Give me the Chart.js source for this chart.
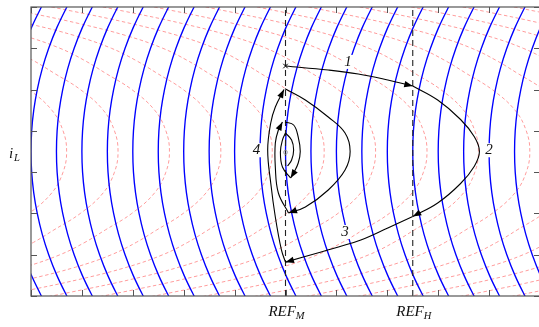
<!DOCTYPE html>
<html>
<head>
<meta charset="utf-8">
<script src="https://cdn.jsdelivr.net/npm/chart.js@4/dist/chart.umd.min.js"></script>
<style>
  html, body { margin: 0; padding: 0; background: #fff; overflow: hidden; width: 539px; height: 327px; }
  #wrap { width: 545px; height: 327px; }
</style>
</head>
<body>
<div id="wrap"><canvas id="c" width="545" height="327"></canvas></div>
<script>
// Axis ticks (normalised voltage on x, normalised current on y)
const xTicks = [0, 1, 2, 3, 4, 5, 6, 7, 8, 9, 10];
const yTicks = [-3.5, -2.5, -1.5, -0.5, 0.5, 1.5, 2.5, 3.5];

// Reference voltages
const refLines = [
  { x: 5.0, name: 'REF', sub: 'M' },
  { x: 7.5, name: 'REF', sub: 'H' }
];

// Blue family: vertex positions and the half-profile [iL, dv] shared by every arc
const blueVertices = [-0.5, 0, 0.5, 1, 1.5, 2, 2.5, 3, 3.5, 4, 4.5, 5, 5.5, 6, 6.5, 7, 7.5, 8, 8.5, 9, 9.5, 10];
const blueProfile = [[0, 0], [0.5, 0.013], [1, 0.054], [1.5, 0.123], [2, 0.22], [2.5, 0.348], [3, 0.508], [3.5, 0.704], [3.75, 0.816]];

// Pink dashed family: vertex positions and half-profile [iL, dv]
const pinkVertices = [0.7, 1.71, 2.72, 3.73, 4.74, 5.76, 6.77, 7.78, 8.79, 9.8, 10.81, 11.82, 12.83, 13.84, 14.85, 15.86];
const pinkProfile = [[0, 0], [0.5, -0.07], [1.0, -0.29], [1.5, -0.74], [1.9, -1.26], [2.2, -1.66], [2.5, -2.15], [2.8, -2.85], [3.1, -3.8], [3.4, -4.95], [3.7, -6.2], [4.0, -7.5]];

// Trajectory segments [v, iL]
const path1 = [[5.0, 2.07], [5.84, 1.973], [6.43, 1.877], [7.01, 1.731], [7.5, 1.586]];
const path2 = [[7.5, 1.586], [7.99, 1.247], [8.44, 0.775], [8.71, 0.355], [8.81, 0], [8.71, -0.355], [8.44, -0.775], [7.99, -1.247], [7.5, -1.575]];
const path3 = [[7.5, -1.575], [7.01, -1.852], [6.48, -2.143], [6.04, -2.312], [5.7, -2.433], [5.0, -2.68]];
const path4a = [[5.0, -2.68], [4.92, -2.385], [4.8, -1.586], [4.71, -0.763], [4.65, 0.036], [4.71, 0.69], [4.8, 1.077], [4.97, 1.5]];
const path4b = [[4.99, 1.52], [5.39, 1.247], [5.84, 0.835], [6.17, 0.448], [6.27, 0.0], [6.17, -0.448], [5.84, -0.932], [5.39, -1.344], [5.06, -1.489]];
const path4c = [[5.06, -1.489], [4.86, -1.005], [4.8, -0.375], [4.8, 0.206], [4.86, 0.521], [4.94, 0.714]];
const path4d = [[4.99, 0.714], [5.16, 0.642], [5.25, 0.351], [5.29, 0.0], [5.25, -0.278], [5.16, -0.521], [5.1, -0.642]];
const path4e = [[5.1, -0.642], [4.94, -0.375], [4.9, -0.012], [4.94, 0.278], [5.0, 0.448]];
const path4f = [[5.0, 0.448], [5.12, 0.278], [5.16, 0.036], [5.12, -0.206], [5.04, -0.351]];

const startPoint = [5.0, 2.07];
const restPoint = [5.0, -0.02];

// Segment numbers and where they sit [label, v, iL]
const segmentLabels = [['1', 6.23, 2.17], ['2', 9.0, 0.03], ['3', 6.17, -1.95], ['4', 4.43, 0.03]];

const toXY = arr => arr.map(([x, y]) => ({ x, y }));

function mirroredArc(v, profile) {
  const upper = profile.map(([dy, dx]) => ({ x: v + dx, y: dy }));
  const lower = profile.slice(1).map(([dy, dx]) => ({ x: v + dx, y: -dy })).reverse();
  return lower.concat(upper);
}

const datasets = [];

// trajectory (drawn on top)
[path1, path2, path3, path4a, path4b, path4c, path4d].forEach(p => {
  datasets.push({ data: toXY(p), showLine: true, borderColor: '#000', borderWidth: 1.1,
    pointRadius: 0, tension: 0.4, arrow: true, order: 0 });
});
[path4e, path4f].forEach(p => {
  datasets.push({ data: toXY(p), showLine: true, borderColor: '#000', borderWidth: 1.1,
    pointRadius: 0, tension: 0.4, order: 0 });
});
datasets.push({ data: toXY([startPoint]), showLine: false, pointStyle: 'crossRot', pointRadius: 3.2,
  borderColor: '#000', borderWidth: 1, order: 0 });
datasets.push({ data: toXY([restPoint]), showLine: false, pointStyle: 'circle', pointRadius: 2,
  borderColor: '#999', backgroundColor: 'rgba(0,0,0,0)', borderWidth: 0.8, order: 0 });

// reference lines
refLines.forEach(r => {
  datasets.push({ data: [{ x: r.x, y: -3.5 }, { x: r.x, y: 3.5 }], showLine: true, borderColor: '#222',
    borderWidth: 1.1, borderDash: [6, 4], pointRadius: 0, order: 1 });
});

// blue arcs
blueVertices.forEach(v => {
  datasets.push({ data: mirroredArc(v, blueProfile), showLine: true, borderColor: '#0000ff',
    borderWidth: 1.35, pointRadius: 0, tension: 0.4, order: 2 });
});

// pink dashed arcs
pinkVertices.forEach(v => {
  datasets.push({ data: mirroredArc(v, pinkProfile), showLine: true, borderColor: '#ff9c9c',
    borderWidth: 1, borderDash: [3.5, 2.5], pointRadius: 0, tension: 0.4, order: 3 });
});

const overlay = {
  id: 'overlay',
  afterDatasetsDraw(chart) {
    const { ctx, chartArea: a, scales: { x, y } } = chart;
    ctx.save();

    // arrowheads at the end of each directed segment
    chart.data.datasets.forEach((ds, i) => {
      if (!ds.arrow) return;
      const pts = chart.getDatasetMeta(i).data;
      const p1 = pts[pts.length - 1];
      let fx = p1.cp1x, fy = p1.cp1y;
      if (fx === undefined || Math.hypot(p1.x - fx, p1.y - fy) < 0.5) {
        fx = pts[pts.length - 2].x; fy = pts[pts.length - 2].y;
      }
      const ang = Math.atan2(p1.y - fy, p1.x - fx);
      ctx.save();
      ctx.translate(p1.x, p1.y);
      ctx.rotate(ang);
      ctx.beginPath();
      ctx.moveTo(0, 0);
      ctx.lineTo(-8.5, -3.2);
      ctx.lineTo(-8.5, 3.2);
      ctx.closePath();
      ctx.fillStyle = '#000';
      ctx.fill();
      ctx.restore();
    });

    // frame with inward ticks
    ctx.strokeStyle = '#555';
    ctx.lineWidth = 1.2;
    ctx.strokeRect(a.left, a.top, a.right - a.left, a.bottom - a.top);
    ctx.beginPath();
    const tl = 6;
    xTicks.forEach(t => {
      const px = Math.round(x.getPixelForValue(t)) + 0.5;
      ctx.moveTo(px, a.top); ctx.lineTo(px, a.top + tl);
      ctx.moveTo(px, a.bottom); ctx.lineTo(px, a.bottom - tl);
    });
    yTicks.forEach(t => {
      const py = Math.round(y.getPixelForValue(t)) + 0.5;
      ctx.moveTo(a.left, py); ctx.lineTo(a.left + tl, py);
      ctx.moveTo(a.right, py); ctx.lineTo(a.right - tl, py);
    });
    ctx.lineWidth = 1;
    ctx.stroke();

    // text
    ctx.fillStyle = '#111';
    ctx.textBaseline = 'alphabetic';
    const main = 'italic 15px "Liberation Serif", "DejaVu Serif", serif';
    const small = 'italic 10.5px "Liberation Serif", "DejaVu Serif", serif';

    refLines.forEach(r => {
      ctx.font = main;
      const w1 = ctx.measureText(r.name).width;
      ctx.font = small;
      const w2 = ctx.measureText(r.sub).width;
      const cx = x.getPixelForValue(r.x);
      const left = cx - (w1 + w2) / 2 + 1;
      const base = a.bottom + 20;
      ctx.font = main;
      ctx.textAlign = 'left';
      ctx.fillText(r.name, left, base);
      ctx.font = small;
      ctx.fillText(r.sub, left + w1, base + 3);
    });

    // y axis name
    ctx.font = main;
    ctx.textAlign = 'left';
    const yc = y.getPixelForValue(0);
    ctx.fillText('i', 9, yc + 6);
    ctx.font = small;
    ctx.fillText('L', 14, yc + 9);

    // segment numbers
    ctx.font = main;
    ctx.textAlign = 'center';
    ctx.textBaseline = 'middle';
    segmentLabels.forEach(([t, vx, vy]) => {
      const px = x.getPixelForValue(vx), py = y.getPixelForValue(vy);
      ctx.fillStyle = '#fff';
      ctx.fillRect(px - 5, py - 7, 10, 14);
      ctx.fillStyle = '#111';
      ctx.fillText(t, px, py);
    });

    ctx.restore();
  }
};

new Chart(document.getElementById('c'), {
  type: 'scatter',
  data: { datasets },
  options: {
    responsive: false,
    animation: false,
    events: [],
    layout: { padding: { left: 31, right: 2, top: 7, bottom: 31 } },
    plugins: { legend: { display: false }, tooltip: { enabled: false } },
    scales: {
      x: { type: 'linear', min: 0, max: 10, display: false },
      y: { type: 'linear', min: -3.5, max: 3.5, display: false }
    }
  },
  plugins: [overlay]
});
</script>
</body>
</html>
